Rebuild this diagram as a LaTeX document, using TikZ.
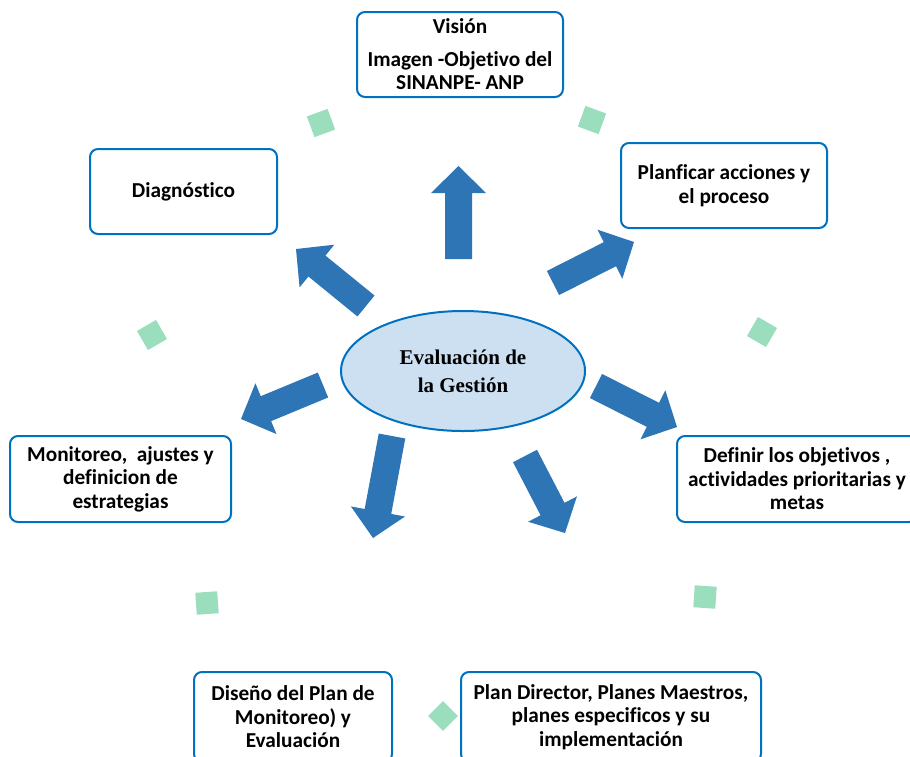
\documentclass[tikz,border=0pt]{standalone}
\usepackage{fontspec}
\setmainfont{Carlito}[Ligatures=NoCommon]
\newfontfamily\serifbold{Liberation Serif}
\usetikzlibrary{calc,shapes.geometric}

\definecolor{boxblue}{HTML}{0070C0}
\definecolor{arrowblue}{HTML}{2E75B6}
\definecolor{ovalfill}{HTML}{CCE0F2}
\definecolor{mint}{HTML}{9ADEBE}

% block arrow from a tail coordinate to a tip coordinate
\newcommand{\blockarrow}[2]{%
  \coordinate (#1-base) at ($(#2)!27pt!(#1)$);
  \fill[arrowblue]
    ($(#1)!13.5pt!90:(#2)$) -- ($(#1)!13.5pt!-90:(#2)$)
    -- ($(#1-base)!13.5pt!-90:(#2)$) -- ($(#1-base)!27.5pt!-90:(#2)$)
    -- (#2)
    -- ($(#1-base)!27.5pt!90:(#2)$) -- ($(#1-base)!13.5pt!90:(#2)$)
    -- cycle;
}

\tikzset{
  stagebox/.style={draw=boxblue, line width=2pt, rounded corners=8pt,
    fill=white, inner sep=0pt, align=center,
    font=\bfseries\fontsize{21.3}{23.5}\selectfont},
  mintsq/.style={fill=mint, minimum size=22pt, inner sep=0pt},
}

\begin{document}
\begin{tikzpicture}[x=1pt, y=-1pt]
\useasboundingbox (0,0) rectangle (910,756);

% central oval
\node[ellipse, draw=boxblue, line width=2pt, fill=ovalfill,
  minimum width=244pt, minimum height=120pt, align=center,
  font=\serifbold\bfseries\fontsize{21}{28}\selectfont] (center) at (463,371)
  {Evaluación de\\la Gestión};

% stage boxes around the oval
\node[stagebox, minimum width=206pt, minimum height=85pt] (vision) at (460,54.5)
  {Visión\\[9pt]Imagen -Objetivo del\\SINANPE- ANP};
\node[stagebox, minimum width=187pt, minimum height=85pt] (diag) at (183.5,191.5)
  {Diagnóstico};
\node[stagebox, minimum width=206pt, minimum height=85pt] (plan) at (724,185.5)
  {Planficar acciones y\\el proceso};
\node[stagebox, minimum width=221pt, minimum height=86pt] (monit) at (120.5,479)
  {Monitoreo,\ \ ajustes y\\definicion de\\estrategias};
\node[stagebox, minimum width=240pt, minimum height=86pt] (defin) at (797,479)
  {Definir los objetivos ,\\actividades prioritarias y\\metas};
\node[stagebox, minimum width=198pt, minimum height=90pt] (diseno) at (293,717)
  {Diseño del Plan de\\Monitoreo) y\\Evaluación};
\node[stagebox, minimum width=300pt, minimum height=90pt] (director) at (611,717)
  {Plan Director, Planes Maestros,\\planes especificos y su\\implementación};

% arrows radiating from the oval
\coordinate (a1t) at (458.5,259); \coordinate (a1h) at (458.5,166);
\coordinate (a2t) at (366,306);   \coordinate (a2h) at (296,249);
\coordinate (a3t) at (553,283);   \coordinate (a3h) at (634,242);
\coordinate (a4t) at (323,385);   \coordinate (a4h) at (241,419);
\coordinate (a5t) at (392,436);   \coordinate (a5h) at (373,538);
\coordinate (a6t) at (525,456);   \coordinate (a6h) at (565,533);
\coordinate (a7t) at (596,386);   \coordinate (a7h) at (677,427);
\blockarrow{a1t}{a1h}
\blockarrow{a2t}{a2h}
\blockarrow{a3t}{a3h}
\blockarrow{a4t}{a4h}
\blockarrow{a5t}{a5h}
\blockarrow{a6t}{a6h}
\blockarrow{a7t}{a7h}

% small mint markers on the ring
\node[mintsq, rotate=20]  (m1) at (321,123) {};
\node[mintsq, rotate=-20] (m2) at (592,120) {};
\node[mintsq, rotate=30]  (m3) at (152,335) {};
\node[mintsq, rotate=-30] (m4) at (762,332) {};
\node[mintsq, rotate=4]   (m5) at (207,603) {};
\node[mintsq, rotate=-4]  (m6) at (705,597) {};
\node[mintsq, rotate=45, minimum size=21pt] (m7) at (443,716) {};
\end{tikzpicture}
\end{document}
